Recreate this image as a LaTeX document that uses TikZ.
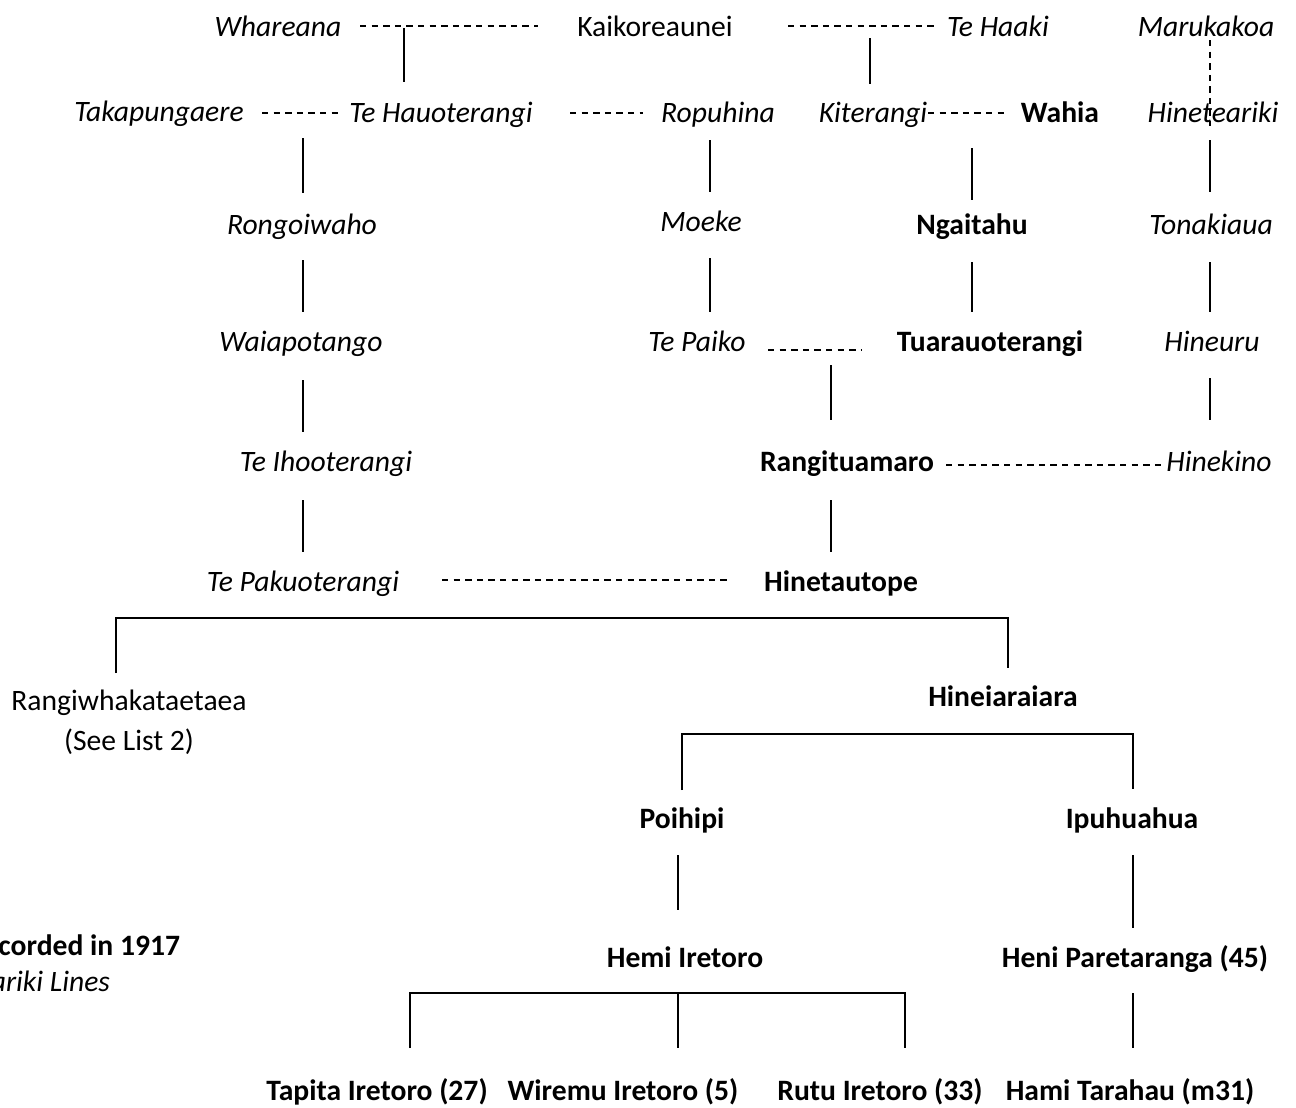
\documentclass[tikz,border=0pt]{standalone}
\usepackage{fontspec}
\setmainfont{Carlito}
\begin{document}
\begin{tikzpicture}[x=0.5pt,y=-0.5pt,
  every node/.style={inner sep=0pt,outer sep=0pt,text height=0.91em,text depth=0pt,
    font=\fontsize{14.8}{17}\selectfont},
  anc/.style={font=\fontsize{14.8}{17}\selectfont\itshape},
  kin/.style={font=\fontsize{14.8}{17}\selectfont\bfseries},
  plain/.style={},
  descent/.style={line width=0.65pt},
  union/.style={line width=0.6pt,dash pattern=on 3.2pt off 2.6pt}]
\useasboundingbox (0,0) rectangle (1296,1108);

% ---------- names ----------
\node[anc]   (whareana) at (278,27)  {Whareana};
\node[plain] (kaikor)   at (655,27)  {Kaikoreaunei};
\node[anc]   (tehaaki)  at (998,27)  {Te Haaki};
\node[anc]   (maruk)    at (1206,27) {Marukakoa};

\node[anc]   (takap)    at (159,112) {Takapungaere};
\node[anc]   (tehauo)   at (441,113) {Te Hauoterangi};
\node[anc]   (ropuh)    at (718,113) {Ropuhina};
\node[anc]   (kiter)    at (873,113) {Kiterangi};
\node[kin]   (wahia)    at (1060,113) {Wahia};
\node[anc]   (hinetea)  at (1213,113) {Hineteariki};

\node[anc]   (rongoi)   at (302,225) {Rongoiwaho};
\node[anc]   (moeke)    at (701,222) {Moeke};
\node[kin]   (ngaitahu) at (972,225) {Ngaitahu};
\node[anc]   (tonak)    at (1211,225) {Tonakiaua};

\node[anc]   (waiap)    at (301,342) {Waiapotango};
\node[anc]   (tepaiko)  at (697,342) {Te Paiko};
\node[kin]   (tuarau)   at (990,342) {Tuarauoterangi};
\node[anc]   (hineuru)  at (1212,342) {Hineuru};

\node[anc]   (teihoo)   at (326,462) {Te Ihooterangi};
\node[kin]   (rangitu)  at (847,462) {Rangituamaro};
\node[anc]   (hinekino) at (1219,462) {Hinekino};

\node[anc]   (tepaku)   at (303,582) {Te Pakuoterangi};
\node[kin]   (hinetau)  at (841,582) {Hinetautope};

\node[plain] (rangiwh)  at (129,701) {Rangiwhakataetaea};
\node[plain] (seelist)  at (129,741) {(See List 2)};
\node[kin]   (hineia)   at (1003,697) {Hineiaraiara};

\node[kin]   (poihipi)  at (682,819) {Poihipi};
\node[kin]   (ipuhua)   at (1132,819) {Ipuhuahua};

\node[kin]   (hemi)     at (685,958) {Hemi Iretoro};
\node[kin]   (heni)     at (1135,958) {Heni Paretaranga (45)};

\node[kin]   (tapita)   at (377,1091) {Tapita Iretoro (27)};
\node[kin]   (wiremu)   at (623,1091) {Wiremu Iretoro (5)};
\node[kin]   (rutu)     at (880,1091) {Rutu Iretoro (33)};
\node[kin]   (hami)     at (1130,1091) {Hami Tarahau (m31)};

\node[kin,anchor=east] (rec)   at (180,946) {corded in 1917};
\node[anc,anchor=east] (lines) at (110,982) {ariki Lines};

% ---------- unions (dashed) ----------
\draw[union] (360,26) -- (538,26);
\draw[union] (788,26) -- (936,26);
\draw[union] (1210,40) -- (1210,126);
\draw[union] (262,113) -- (343,113);
\draw[union] (570,113) -- (643,113);
\draw[union] (928,113) -- (1006,113);
\draw[union] (768,350) -- (862,350);
\draw[union] (946,465) -- (1164,465);
\draw[union] (442,580) -- (731,580);

% ---------- descent lines ----------
\draw[descent] (404,28) -- (404,82);
\draw[descent] (870,38) -- (870,84);

\draw[descent] (303,138) -- (303,193);
\draw[descent] (303,260) -- (303,312);
\draw[descent] (303,380) -- (303,432);
\draw[descent] (303,500) -- (303,552);

\draw[descent] (710,140) -- (710,192);
\draw[descent] (710,258) -- (710,312);

\draw[descent] (972,148) -- (972,200);
\draw[descent] (972,262) -- (972,312);

\draw[descent] (1210,140) -- (1210,192);
\draw[descent] (1210,262) -- (1210,312);
\draw[descent] (1210,378) -- (1210,420);

\draw[descent] (831,365) -- (831,420);
\draw[descent] (831,500) -- (831,552);

% children of Te Pakuoterangi and Hinetautope
\draw[descent] (116,673) -- (116,618) -- (1008,618) -- (1008,668);
% children of Hineiaraiara
\draw[descent] (682,790) -- (682,734) -- (1133,734) -- (1133,789);
\draw[descent] (678,855) -- (678,910);
\draw[descent] (1133,855) -- (1133,928);
% children of Hemi Iretoro
\draw[descent] (410,1048) -- (410,993) -- (905,993) -- (905,1048);
\draw[descent] (678,993) -- (678,1048);
\draw[descent] (1133,993) -- (1133,1048);
\end{tikzpicture}
\end{document}
